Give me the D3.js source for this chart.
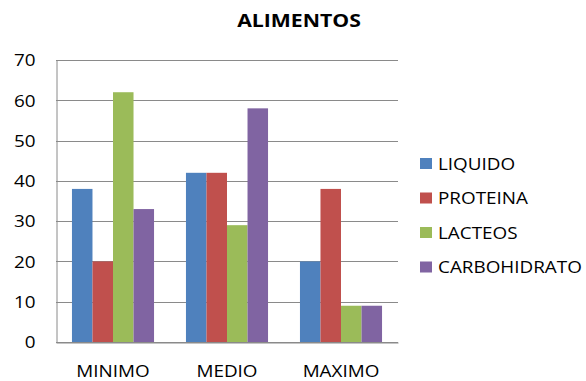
<!DOCTYPE html>
<html>
<head>
<meta charset="utf-8">
<script src="https://cdn.jsdelivr.net/npm/d3@7"></script>
<style>
  html, body { margin: 0; padding: 0; background: #fff; }
  svg { display: block; }
  text { font-family: "Open Sans", "DejaVu Sans", sans-serif; fill: #000; }
</style>
</head>
<body>
<svg id="chart" width="586" height="381"></svg>
<script>
// Chart data
const categories = ["MINIMO", "MEDIO", "MAXIMO"];
const seriesNames = ["LIQUIDO", "PROTEINA", "LACTEOS", "CARBOHIDRATO"];
const liquido = [38, 42, 20];
const proteina = [20, 42, 38];
const lacteos = [62, 29, 9];
const carbohidrato = [33, 58, 9];
const yTicks = [0, 10, 20, 30, 40, 50, 60, 70];
const colors = ["#4F81BD", "#C0504D", "#9BBB59", "#8064A2"];
const title = "ALIMENTOS";

const seriesValues = [liquido, proteina, lacteos, carbohidrato];
const sx = 1.18; // horizontal stretch for all labels

const svg = d3.select("#chart");
const plot = { left: 56, right: 398, top: 60, bottom: 342 };

const x = d3.scaleBand()
  .domain(categories)
  .range([plot.left, plot.right])
  .paddingInner(0.28)
  .paddingOuter(0.14);

const xs = d3.scaleBand()
  .domain(seriesNames)
  .range([0, x.bandwidth()]);

const y = d3.scaleLinear()
  .domain([0, 70])
  .range([plot.bottom, plot.top]);

// Horizontal gridlines
svg.append("g")
  .selectAll("line")
  .data(yTicks)
  .join("line")
  .attr("x1", plot.left)
  .attr("x2", plot.right)
  .attr("y1", d => Math.round(y(d)) + 0.5)
  .attr("y2", d => Math.round(y(d)) + 0.5)
  .attr("stroke", "#8a8a8a")
  .attr("stroke-width", 1);

// Bars
const groups = svg.append("g")
  .selectAll("g")
  .data(categories)
  .join("g")
  .attr("transform", c => `translate(${x(c)},0)`);

groups.selectAll("rect")
  .data((c, i) => seriesNames.map((s, k) => ({ s, v: seriesValues[k][i], k })))
  .join("rect")
  .attr("x", d => xs(d.s))
  .attr("width", xs.bandwidth())
  .attr("y", d => y(d.v))
  .attr("height", d => y(0) - y(d.v))
  .attr("fill", d => colors[d.k]);

// Axes
const yAxis = svg.append("g")
  .attr("transform", `translate(${plot.left + 0.5},0)`)
  .call(d3.axisLeft(y).tickValues(yTicks).tickSize(0).tickPadding(0));
yAxis.select(".domain").attr("stroke", "#8a8a8a");
yAxis.selectAll(".tick text")
  .attr("x", 0)
  .attr("dy", "0.36em")
  .attr("transform", `translate(-21,0) scale(${sx},1)`)
  .style("font-size", "16px")
  .style("fill", "#000");

const xAxis = svg.append("g")
  .attr("transform", `translate(0,${plot.bottom + 0.5})`)
  .call(d3.axisBottom(x).tickSize(0).tickPadding(0));
xAxis.select(".domain").attr("stroke", "#8a8a8a");
xAxis.selectAll(".tick text")
  .attr("y", 0)
  .attr("dy", 0)
  .attr("transform", `translate(0,34) scale(${sx},1)`)
  .style("font-size", "16px")
  .style("fill", "#000");

// Title
svg.append("text")
  .attr("text-anchor", "middle")
  .attr("transform", `translate(299,27) scale(${sx},1)`)
  .style("font-size", "18px")
  .style("font-weight", "bold")
  .text(title);

// Legend
const legend = svg.append("g")
  .selectAll("g")
  .data(seriesNames)
  .join("g")
  .attr("transform", (d, i) => `translate(420,${158 + i * 34.5})`);

legend.append("rect")
  .attr("width", 12)
  .attr("height", 11)
  .attr("fill", (d, i) => colors[i]);

legend.append("text")
  .attr("transform", `translate(18,11.5) scale(${sx},1)`)
  .style("font-size", "16px")
  .text(d => d);
</script>
</body>
</html>
